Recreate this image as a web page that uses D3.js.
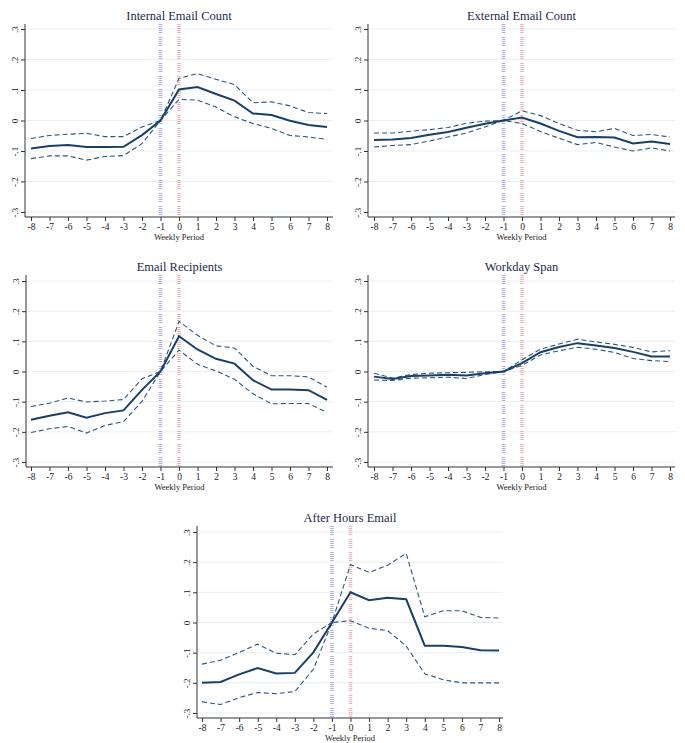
<!DOCTYPE html>
<html><head><meta charset="utf-8">
<script src="https://cdn.jsdelivr.net/npm/d3@7"></script>
<style>
html,body{margin:0;padding:0;background:#fff;}
svg{display:block;}
text{font-family:"Liberation Serif","Times New Roman",serif;}
</style></head>
<body>
<svg id="chart" width="685" height="743"></svg>
<script>
const periods = [-8,-7,-6,-5,-4,-3,-2,-1,0,1,2,3,4,5,6,7,8];
const xTickLabels = ["-8","-7","-6","-5","-4","-3","-2","-1","0","1","2","3","4","5","6","7","8"];
const yTicks = [-0.3,-0.2,-0.1,0,0.1,0.2,0.3];
const yTickLabels = ["-.3","-.2","-.1","0",".1",".2",".3"];
const titles = ["Internal Email Count","External Email Count","Email Recipients","Workday Span","After Hours Email"];
const xLabel = "Weekly Period";

const internalMean  = [-0.092,-0.084,-0.080,-0.087,-0.087,-0.086,-0.048,0,0.102,0.110,0.087,0.065,0.023,0.018,-0.001,-0.015,-0.021];
const internalUpper = [-0.059,-0.049,-0.045,-0.042,-0.053,-0.053,-0.021,0,0.138,0.154,0.135,0.118,0.058,0.061,0.048,0.026,0.023];
const internalLower = [-0.125,-0.116,-0.116,-0.130,-0.118,-0.115,-0.076,0,0.069,0.067,0.044,0.012,-0.010,-0.026,-0.049,-0.054,-0.062];

const externalMean  = [-0.064,-0.062,-0.057,-0.047,-0.038,-0.024,-0.011,0,0.010,-0.010,-0.034,-0.055,-0.054,-0.056,-0.075,-0.069,-0.077];
const externalUpper = [-0.041,-0.041,-0.035,-0.030,-0.023,-0.009,-0.002,0,0.032,0.016,-0.010,-0.032,-0.037,-0.026,-0.049,-0.046,-0.054];
const externalLower = [-0.087,-0.082,-0.079,-0.067,-0.054,-0.041,-0.021,0,-0.010,-0.036,-0.058,-0.079,-0.072,-0.087,-0.100,-0.090,-0.100];

const recipMean  = [-0.160,-0.147,-0.135,-0.153,-0.138,-0.129,-0.061,0,0.117,0.073,0.042,0.026,-0.029,-0.060,-0.060,-0.062,-0.094];
const recipUpper = [-0.116,-0.105,-0.088,-0.101,-0.098,-0.093,-0.024,0,0.166,0.120,0.085,0.078,0.017,-0.014,-0.014,-0.018,-0.052];
const recipLower = [-0.202,-0.190,-0.182,-0.204,-0.179,-0.166,-0.099,0,0.071,0.024,0.002,-0.026,-0.074,-0.107,-0.106,-0.106,-0.136];

const spanMean  = [-0.017,-0.025,-0.015,-0.013,-0.011,-0.013,-0.006,0,0.028,0.064,0.081,0.094,0.086,0.078,0.065,0.050,0.050];
const spanUpper = [-0.006,-0.022,-0.010,-0.006,-0.004,-0.003,-0.001,0,0.039,0.074,0.091,0.107,0.098,0.090,0.080,0.065,0.069];
const spanLower = [-0.028,-0.030,-0.022,-0.021,-0.019,-0.023,-0.010,0,0.020,0.055,0.069,0.080,0.074,0.063,0.043,0.036,0.033];

const afterMean  = [-0.200,-0.197,-0.172,-0.151,-0.169,-0.167,-0.099,0,0.100,0.074,0.082,0.077,-0.077,-0.077,-0.081,-0.092,-0.093];
const afterUpper = [-0.138,-0.125,-0.099,-0.072,-0.102,-0.107,-0.038,0,0.192,0.166,0.190,0.229,0.019,0.039,0.039,0.017,0.015];
const afterLower = [-0.263,-0.272,-0.249,-0.232,-0.236,-0.229,-0.155,0,0.006,-0.019,-0.027,-0.078,-0.170,-0.190,-0.200,-0.200,-0.200];

const seriesSets = [
  [internalMean, internalUpper, internalLower],
  [externalMean, externalUpper, externalLower],
  [recipMean, recipUpper, recipLower],
  [spanMean, spanUpper, spanLower],
  [afterMean, afterUpper, afterLower]
];

// layout: axis-left x, x(-8) px, x(8) px, right end, y(.3), y(-.3), axis top, axis bottom
const layouts = [
  {ax:25, x0:31, x1:327, xr:333, yt:29, yb:212, top:24, bot:217},
  {ax:368, x0:374, x1:670, xr:675, yt:29, yb:212, top:24, bot:217},
  {ax:26, x0:31, x1:327, xr:333, yt:281, yb:462, top:275, bot:467},
  {ax:368, x0:374, x1:670, xr:675, yt:281, yb:462, top:275, bot:467},
  {ax:197, x0:202, x1:499, xr:503, yt:532, yb:713, top:526, bot:718}
];

const svg = d3.select("#chart");
const navy = "#1a3f66";
const titleColor = "#1c2a4d";

layouts.forEach((L, i) => {
  const g = svg.append("g");
  const x = d3.scaleLinear().domain([-8, 8]).range([L.x0, L.x1]);
  const y = d3.scaleLinear().domain([-0.3, 0.3]).range([L.yb, L.yt]);

  // gridlines
  g.selectAll("line.grid").data(yTicks).enter().append("line")
    .attr("x1", L.ax + 1).attr("x2", L.xr)
    .attr("y1", d => y(d)).attr("y2", d => y(d))
    .attr("stroke", "#e6f0f0").attr("stroke-width", 1);

  // vertical reference lines
  [[-1, "#a9abf7"], [0, "#f7b0b0"]].forEach(([v, c]) => {
    g.append("line")
      .attr("x1", x(v)).attr("x2", x(v))
      .attr("y1", L.top).attr("y2", L.bot)
      .attr("stroke", c).attr("stroke-width", 3.6)
      .attr("stroke-dasharray", "1,1,1,1,1,1,1,1,1,4");
  });

  // axes
  const yAxis = d3.axisLeft(y).tickValues(yTicks)
    .tickFormat((d, k) => yTickLabels[k]).tickSize(4).tickPadding(3);
  const ya = g.append("g").attr("transform", `translate(${L.ax},0)`).call(yAxis);
  ya.select(".domain").attr("d", `M-0,${L.top}V${L.bot}`).attr("stroke", "#333");
  ya.selectAll(".tick line").attr("stroke", "#333");
  ya.selectAll(".tick text")
    .attr("font-family", "Liberation Serif, serif").attr("font-size", 9).attr("fill", "#222")
    .attr("transform", "rotate(-90,-10,0)")
    .attr("x", -10).attr("dy", "0.35em").attr("text-anchor", "middle");

  const xAxis = d3.axisBottom(x).tickValues(periods).tickFormat((d, k) => xTickLabels[k]).tickSize(4).tickPadding(2);
  const xa = g.append("g").attr("transform", `translate(0,${L.bot})`).call(xAxis);
  xa.select(".domain").attr("d", `M${L.ax},0H${L.xr}`).attr("stroke", "#333");
  xa.selectAll(".tick line").attr("stroke", "#333");
  xa.selectAll(".tick text").attr("font-family", "Liberation Serif, serif").attr("font-size", 9.5).attr("fill", "#222");

  // x label
  g.append("text").attr("x", (L.ax + L.xr) / 2).attr("y", L.bot + 23)
    .attr("text-anchor", "middle").attr("font-size", 8.5).attr("fill", "#222").text(xLabel);

  // title
  g.append("text").attr("x", (L.ax + L.xr) / 2).attr("y", L.top - 4)
    .attr("text-anchor", "middle").attr("font-size", 12.5).attr("fill", titleColor).text(titles[i]);

  // lines
  const [mean, upper, lower] = seriesSets[i];
  const line = d3.line().x((d, k) => x(periods[k])).y(d => y(d));
  [upper, lower].forEach(s => {
    g.append("path").datum(s).attr("d", line).attr("fill", "none")
      .attr("stroke", "#2e557f").attr("stroke-width", 1.1).attr("stroke-dasharray", "5,3");
  });
  g.append("path").datum(mean).attr("d", line).attr("fill", "none")
    .attr("stroke", navy).attr("stroke-width", 2);
});
</script>
</body></html>
